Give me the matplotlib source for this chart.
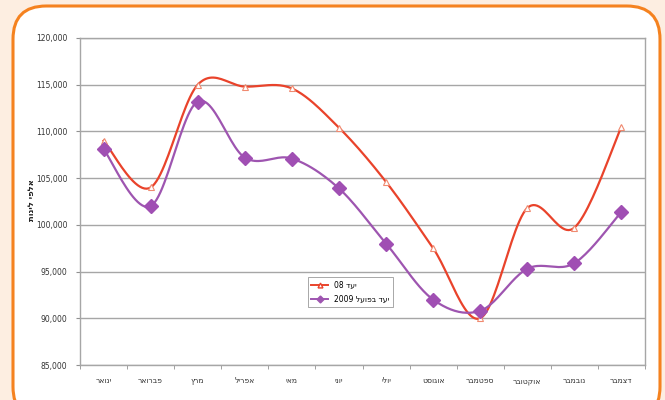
import matplotlib
matplotlib.use("Agg")
import matplotlib.pyplot as plt
import numpy as np
from matplotlib.patches import FancyBboxPatch
from matplotlib.ticker import FuncFormatter

months = ["ינואר", "פברואר", "מרץ", "אפריל", "מאי", "יוני", "יולי",
          "אוגוסט", "ספטמבר", "אוקטובר", "נובמבר", "דצמבר"]
target_08 = [109000, 104000, 115000, 114800, 114600, 110400, 104600,
             97500, 90000, 101800, 99700, 110500]
actual_2009 = [108100, 102000, 113200, 107200, 107100, 103900, 98000,
               92000, 90800, 95300, 95900, 101400]
series_names = ["יעד 08", "יעד בפועל 2009"]
y_label = "אלפי לינות"
y_ticks = [85000, 90000, 95000, 100000, 105000, 110000, 115000, 120000]


def visual(s):
    """Render RTL text in visual order for matplotlib (no bidi support)."""
    words = s.split(" ")
    out = []
    for w in reversed(words):
        if any('\u0590' <= c <= '\u05ff' for c in w):
            out.append(w[::-1])
        else:
            out.append(w)
    return " ".join(out)


def smooth(xs, ys, n=24):
    pts = np.column_stack([xs, ys]).astype(float)
    m = len(pts)
    res = []
    for i in range(m - 1):
        p0 = pts[i - 1] if i > 0 else pts[i]
        p1 = pts[i]
        p2 = pts[i + 1]
        p3 = pts[i + 2] if i + 2 < m else pts[i + 1]
        c1 = p1 + (p2 - p0) / 6.0
        c2 = p2 - (p3 - p1) / 6.0
        t = np.linspace(0, 1, n, endpoint=(i == m - 2))[:, None]
        b = ((1 - t) ** 3) * p1 + 3 * ((1 - t) ** 2) * t * c1 + 3 * (1 - t) * t ** 2 * c2 + t ** 3 * p2
        res.append(b)
    r = np.vstack(res)
    return r[:, 0], r[:, 1]


W, H = 665, 400
fig = plt.figure(figsize=(W / 100, H / 100), dpi=100)
fig.patch.set_facecolor("#fdeee1")

border = FancyBboxPatch((13 / W, -20 / H), (647 / W), (414 / H),
                        boxstyle="round,pad=0,rounding_size=0.05",
                        transform=fig.transFigure, facecolor="white",
                        edgecolor="#f5821f", linewidth=2.2, mutation_aspect=W / H,
                        zorder=-10)
fig.patches.append(border)

ax = fig.add_axes([80 / W, 35 / H, 565 / W, 327 / H])
ax.set_zorder(1)
ax.set_facecolor("white")

x = np.arange(len(months))
red = "#e9432b"
purple = "#9e55b0"

sx, sy = smooth(x, target_08)
ax.plot(sx, sy, color=red, lw=1.6, zorder=3)
ax.plot(x, target_08, linestyle="none", marker="^", markersize=4.5,
        markerfacecolor="white", markeredgecolor="#f08a70", markeredgewidth=0.8, zorder=4)

px, py = smooth(x, actual_2009)
ax.plot(px, py, color=purple, lw=1.6, zorder=3)
ax.plot(x, actual_2009, linestyle="none", marker="D", markersize=7,
        markerfacecolor="#a04fb3", markeredgecolor="#a04fb3", zorder=4)

# legend proxies
l1, = ax.plot([], [], color=red, lw=1.4, marker="^", markersize=3.5,
              markerfacecolor="white", markeredgecolor=red)
l2, = ax.plot([], [], color=purple, lw=1.4, marker="D", markersize=3.5,
              markerfacecolor=purple, markeredgecolor=purple)
leg = ax.legend([l1, l2], [visual(s) for s in series_names],
                loc="upper left", bbox_to_anchor=(0.396, 0.28),
                fontsize=5.5, frameon=True, fancybox=False,
                handlelength=2.2, borderpad=0.5, labelspacing=0.6)
leg.get_frame().set_edgecolor("#808080")
leg.get_frame().set_linewidth(0.6)

ax.set_xlim(-0.5, len(months) - 0.5)
ax.set_ylim(85000, 120000)
ax.set_yticks(y_ticks)
ax.yaxis.set_major_formatter(FuncFormatter(lambda v, p: f"{int(v):,}"))
ax.set_xticks(x)
ax.set_xticklabels([visual(m) for m in months], fontsize=5.5, color="#333333")
ax.set_xticks(np.arange(-0.5, len(months), 1), minor=True)
ax.tick_params(axis="x", which="major", length=0, pad=8)
ax.tick_params(axis="x", which="minor", length=3, color="#909090")
ax.tick_params(axis="y", labelsize=5.5, labelcolor="#333333", length=3,
               color="#909090", pad=6)
ax.grid(axis="y", color="#a6a6a6", lw=1.0, zorder=0)
for s in ax.spines.values():
    s.set_color("#a6a6a6")
    s.set_linewidth(1.0)

fig.text(32 / W, 1 - 200 / H, visual(y_label), rotation=90, fontsize=6,
         fontweight="bold", ha="center", va="center", color="#222222")

fig.savefig("out.png", dpi=100, facecolor=fig.get_facecolor())
